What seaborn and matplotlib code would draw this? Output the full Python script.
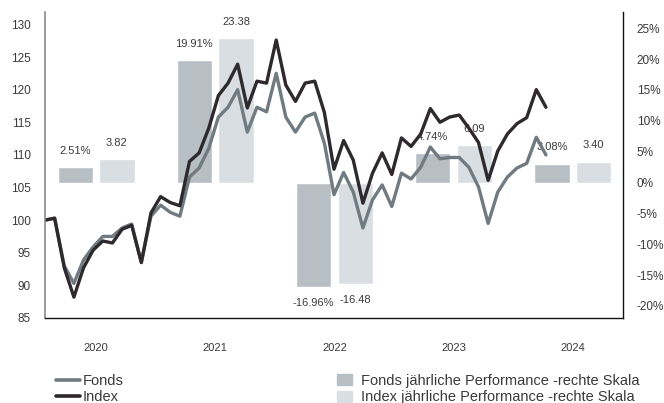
import matplotlib
matplotlib.use("Agg")
import matplotlib.pyplot as plt
from matplotlib.lines import Line2D
from matplotlib.patches import Patch
import pandas as pd
import seaborn as sns

# monthly index values, end of Dec 2019 .. end of Apr 2024 (start = 100)
fonds = [100.0, 100.3, 93.0, 90.3, 93.9, 95.9, 97.5, 97.5, 98.8, 99.4,
         93.5, 100.6, 102.3, 101.2, 100.6, 106.6, 108.0, 111.0, 115.8, 117.3,
         120.0, 113.5, 117.3, 116.6, 122.5, 115.8, 113.5, 115.8, 116.4, 111.8,
         103.9, 107.3, 104.3, 98.8, 103.1, 105.4, 102.1, 107.2, 106.3, 108.1,
         111.2, 109.4, 109.6, 109.6, 108.1, 105.1, 99.5, 104.3, 106.6, 108.0,
         108.7, 112.7, 110.0]
index = [100.0, 100.3, 92.7, 88.2, 92.7, 95.4, 96.8, 96.5, 98.6, 99.2,
         93.5, 101.1, 103.6, 102.7, 102.2, 109.0, 110.3, 114.1, 119.1, 121.0,
         123.9, 117.2, 121.3, 121.0, 127.6, 120.7, 118.2, 121.0, 121.3, 116.5,
         107.8, 112.2, 109.2, 102.6, 107.2, 110.3, 107.0, 112.6, 111.3, 113.2,
         117.1, 115.0, 115.8, 116.1, 114.1, 111.9, 106.1, 110.6, 113.2, 114.8,
         115.7, 120.0, 117.3]

years = ["2020", "2021", "2022", "2023", "2024"]
fonds_perf = [2.51, 19.91, -16.96, 4.74, 3.08]
index_perf = [3.82, 23.38, -16.48, 6.09, 3.40]

left_ticks = [85, 90, 95, 100, 105, 110, 115, 120, 125, 130]
right_ticks = [-20, -15, -10, -5, 0, 5, 10, 15, 20, 25]

c_fonds, c_index = "#6f7b80", "#2e292d"
c_bar_fonds, c_bar_index = "#b7bfc5", "#d9dee2"
txt = "#3a3a3a"

sns.set_style("white")
plt.rcParams["font.family"] = ["Liberation Sans", "DejaVu Sans"]

lines = pd.DataFrame({
    "Monat": list(range(len(fonds))) * 2,
    "Wert": fonds + index,
    "Serie": ["Fonds"] * len(fonds) + ["Index"] * len(index),
})
bars = pd.DataFrame({
    "Jahr": years * 2,
    "Wert": fonds_perf + index_perf,
    "Serie": ["Fonds"] * len(years) + ["Index"] * len(years),
})

fig = plt.figure(figsize=(6.64, 4.03), dpi=100)
rect = [45 / 664, 1 - 318 / 403, 578 / 664, 306 / 403]
ax_bar = fig.add_axes(rect)
ax_line = fig.add_axes(rect)
ax_line.patch.set_visible(False)

# yearly performance bars (right scale)
sns.barplot(data=bars, x="Jahr", y="Wert", hue="Serie", hue_order=["Fonds", "Index"],
            palette=[c_bar_fonds, c_bar_index], saturation=1, width=0.70, gap=0.155,
            legend=False, ax=ax_bar)
ax_bar.set_xlim(-0.428, 4.42)
ax_bar.set_ylim(-21.95, 27.64)
ax_bar.yaxis.tick_right()
ax_bar.set_yticks(right_ticks)
ax_bar.set_yticklabels([f"{t}%" for t in right_ticks])
ax_bar.set_xlabel("")
ax_bar.set_ylabel("")
ax_bar.tick_params(axis="y", length=0, pad=10, labelsize=8.5, labelcolor=txt)
ax_bar.tick_params(axis="x", length=0, pad=18, labelsize=8, labelcolor=txt)
for s in ["top", "left", "bottom"]:
    ax_bar.spines[s].set_visible(False)
ax_bar.spines["right"].set_color("#111111")
ax_bar.spines["right"].set_linewidth(1.0)

labs = [[f"{v:.2f}%" for v in fonds_perf], [f"{v:.2f}" for v in index_perf]]
for cont, lab in zip(ax_bar.containers, labs):
    ax_bar.bar_label(cont, labels=lab, padding=8, fontsize=8, color=txt)

# index lines (left scale)
sns.lineplot(data=lines, x="Monat", y="Wert", hue="Serie", hue_order=["Fonds", "Index"],
             palette=[c_fonds, c_index], linewidth=2.4, legend=False, ax=ax_line)
ax_line.set_xlim(0, 60.0)
ax_line.set_ylim(85, 131.9)
ax_line.set_yticks(left_ticks)
ax_line.set_xticks([])
ax_line.set_xlabel("")
ax_line.set_ylabel("")
ax_line.tick_params(axis="y", length=0, pad=10, labelsize=8.5, labelcolor=txt)
ax_line.spines["top"].set_visible(False)
ax_line.spines["right"].set_visible(False)
ax_line.spines["left"].set_color("#8a8a8a")
ax_line.spines["left"].set_linewidth(1.2)
ax_line.spines["bottom"].set_color("#111111")
ax_line.spines["bottom"].set_linewidth(1.0)

h1 = [Line2D([], [], color=c_fonds, lw=2.6), Line2D([], [], color=c_index, lw=2.6)]
fig.legend(h1, ["Fonds", "Index"], loc="upper left", bbox_to_anchor=(0.085, 0.072),
           frameon=False, fontsize=10.5, handlelength=1.6, handletextpad=0.2,
           labelspacing=0.15, borderpad=0, borderaxespad=0, labelcolor=txt)
h2 = [Patch(color=c_bar_fonds), Patch(color=c_bar_index)]
fig.legend(h2, ["Fonds jährliche Performance -rechte Skala",
                "Index jährliche Performance -rechte Skala"],
           loc="upper left", bbox_to_anchor=(0.508, 0.072), frameon=False, fontsize=10.5,
           handlelength=1.0, handleheight=0.8, handletextpad=0.6,
           labelspacing=0.15, borderpad=0, borderaxespad=0, labelcolor=txt)

fig.savefig("out.png", dpi=100)
